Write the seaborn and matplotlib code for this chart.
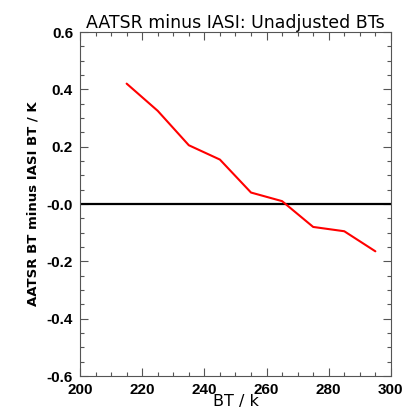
import numpy as np
import pandas as pd
import seaborn as sns
import matplotlib.pyplot as plt
from matplotlib.ticker import MultipleLocator

# datos
bt = [215, 225, 235, 245, 255, 265, 275, 285, 295]
diff = [0.42, 0.325, 0.205, 0.155, 0.04, 0.01, -0.08, -0.095, -0.165]
yticks = [-0.6, -0.4, -0.2, 0.0, 0.2, 0.4, 0.6]
ylabels = ['-0.6', '-0.4', '-0.2', '-0.0', '0.2', '0.4', '0.6']
xticks = [200, 220, 240, 260, 280, 300]

df = pd.DataFrame({'bt': bt, 'diff': diff})

sns.set_style('ticks')
plt.rcParams['font.family'] = ['DejaVu Sans']
plt.rcParams['text.color'] = 'black'
plt.rcParams['xtick.labelcolor'] = 'black'
plt.rcParams['ytick.labelcolor'] = 'black'
plt.rcParams['axes.labelcolor'] = 'black'

fig = plt.figure(figsize=(4.03, 4.19), dpi=100)
ax = fig.add_axes([0.1985, 0.1026, 0.7715, 0.821])

ax.axhline(0, color='black', lw=1.6, zorder=1)
sns.lineplot(data=df, x='bt', y='diff', ax=ax, color='red', lw=1.5, zorder=2)

ax.set_xlim(200, 300)
ax.set_ylim(-0.6, 0.6)
ax.set_xticks(xticks)
ax.set_yticks(yticks)
ax.set_yticklabels(ylabels)
ax.xaxis.set_minor_locator(MultipleLocator(5))
ax.yaxis.set_minor_locator(MultipleLocator(0.05))
ax.tick_params(which='both', direction='in', top=True, right=True, color='#555555')
ax.tick_params(which='major', length=6, width=0.8, pad=5)
ax.tick_params(which='minor', length=3, width=0.8)
for lab in ax.get_xticklabels() + ax.get_yticklabels():
    lab.set_fontfamily('Liberation Sans')
    lab.set_fontweight('bold')
    lab.set_fontsize(11)
for s in ax.spines.values():
    s.set_linewidth(0.8)
    s.set_color('#555555')

ax.set_title('AATSR minus IASI: Unadjusted BTs', fontsize=12.5, pad=3)
ax.set_xlabel('BT / k', fontsize=11.5, labelpad=-2)
ax.set_ylabel('AATSR BT minus IASI BT / K', fontsize=9.5, fontweight='bold', labelpad=5)

fig.savefig('out.png', dpi=100)
